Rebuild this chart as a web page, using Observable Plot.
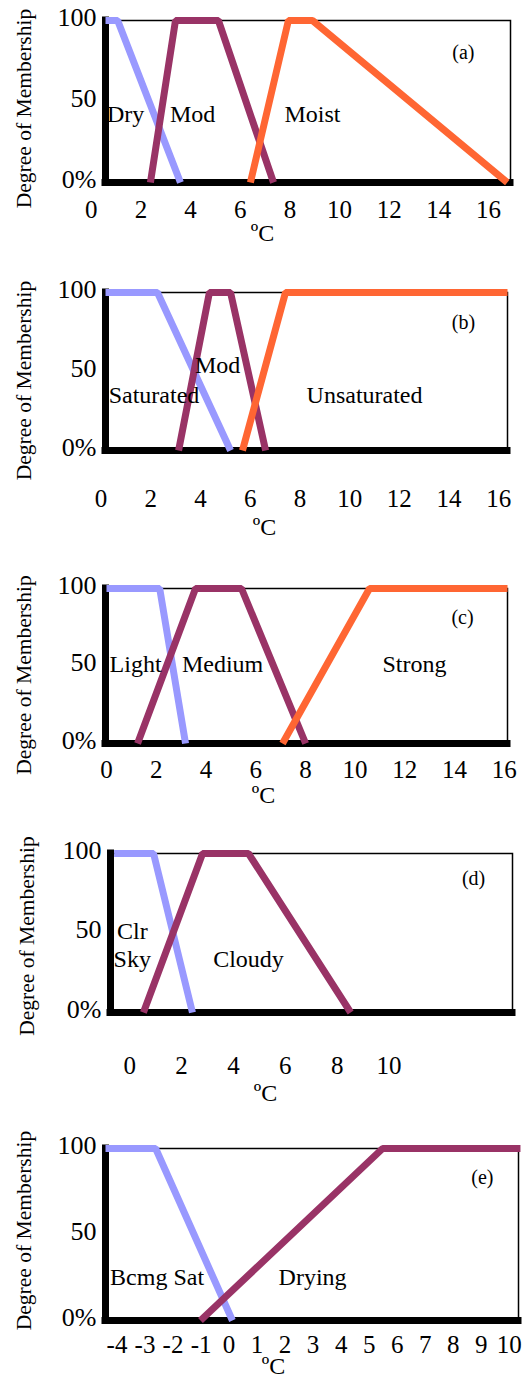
<!DOCTYPE html>
<html><head><meta charset="utf-8">
<script src="https://cdn.jsdelivr.net/npm/d3@7"></script>
<script src="https://cdn.jsdelivr.net/npm/@observablehq/plot@0.6"></script>
<style>
body{margin:0;background:#fff;}
#chart{width:530px;}
#chart svg{display:block;}
</style></head><body><div id="chart"></div>
<script>
const colors = ["#9999FF", "#993366", "#FF6633"];
const yTicks = [0, 50, 100];
const yTickLabels = ["0%", "50", "100"];
const yTitle = "Degree of Membership";
const xTitle = "ºC";

// (a)
const aSeries = ["Dry", "Mod", "Moist"];
const aX = [[0.57, 1.06, 3.59], [2.38, 3.39, 5.12, 7.34], [6.41, 7.94, 8.91, 16.76]];
const aY = [[100, 100, 0], [0, 100, 100, 0], [0, 100, 100, 0]];
const aTicks = [0, 2, 4, 6, 8, 10, 12, 14, 16];
const aLabelText = ["Dry", "Mod", "Moist"];
const aLabelX = [1.38, 4.08, 8.91];
const aLabelY = [43, 43, 43];

// (b)
const bSeries = ["Saturated", "Mod", "Unsaturated"];
const bX = [[0.18, 2.27, 5.21], [3.12, 4.36, 5.21, 6.62], [5.69, 7.42, 16.35]];
const bY = [[100, 100, 0], [0, 100, 100, 0], [0, 100, 100]];
const bTicks = [0, 2, 4, 6, 8, 10, 12, 14, 16];
const bLabelText = ["Saturated", "Mod", "Unsaturated"];
const bLabelX = [2.13, 4.69, 10.6];
const bLabelY = [36, 55, 36];

// (c)
const cSeries = ["Light", "Medium", "Strong"];
const cX = [[0, 2.14, 3.18], [1.25, 3.58, 5.43, 8.01], [7.08, 10.58, 16.13]];
const cY = [[100, 100, 0], [0, 100, 100, 0], [0, 100, 100]];
const cTicks = [0, 2, 4, 6, 8, 10, 12, 14, 16];
const cLabelText = ["Light", "Medium", "Strong"];
const cLabelX = [1.17, 4.67, 12.39];
const cLabelY = [52, 52, 52];

// (d)
const dSeries = ["Clr Sky", "Cloudy"];
const dX = [[-0.6, 0.92, 2.42], [0.53, 2.81, 4.58, 8.52]];
const dY = [[100, 100, 0], [0, 100, 100, 0]];
const dTicks = [0, 2, 4, 6, 8, 10];
const dLabelText = ["Clr\nSky", "Cloudy"];
const dLabelX = [0.1, 4.58];
const dLabelY = [43, 34];

// (e)
const eSeries = ["Bcmg Sat", "Drying"];
const eX = [[-4.41, -2.62, 0.12], [-1.02, 5.48, 10.4]];
const eY = [[100, 100, 0], [0, 100, 100]];
const eTicks = [-4, -3, -2, -1, 0, 1, 2, 3, 4, 5, 6, 7, 8, 9, 10];
const eLabelText = ["Bcmg Sat", "Drying"];
const eLabelX = [-2.57, 2.98];
const eLabelY = [26, 26];

const tags = ["(a)", "(b)", "(c)", "(d)", "(e)"];
const tagX = [14.99, 14.58, 14.32, 13.26, 9.04];
const tagY = [80, 81, 81, 84, 83];

const panels = [
  {series: aSeries, xs: aX, ys: aY, ticks: aTicks, labelText: aLabelText, labelX: aLabelX, labelY: aLabelY,
   domain: [0.57, 16.89], height: 258, mt: 20, mb: 76, ml: 105, mr: 20, tickDy: 27, xtDx: -45.5, xtDy: 51, ytDx: -81, ytDy: 7},
  {series: bSeries, xs: bX, ys: bY, ticks: bTicks, labelText: bLabelText, labelX: bLabelX, labelY: bLabelY,
   domain: [0.18, 16.35], height: 290, mt: 34, mb: 98, ml: 105, mr: 23, tickDy: 48, xtDx: -42, xtDy: 77, ytDx: -81, ytDy: 9},
  {series: cSeries, xs: cX, ys: cY, ticks: cTicks, labelText: cLabelText, labelX: cLabelX, labelY: cLabelY,
   domain: [-0.04, 16.13], height: 270, mt: 40, mb: 75, ml: 105, mr: 23, tickDy: 26, xtDx: -43, xtDy: 52, ytDx: -81, ytDy: 9},
  {series: dSeries, xs: dX, ys: dY, ticks: dTicks, labelText: dLabelText, labelX: dLabelX, labelY: dLabelY,
   domain: [-0.74, 14.76], height: 307, mt: 35, mb: 113, ml: 110, mr: 18, tickDy: 53, xtDx: -46, xtDy: 81, ytDx: -83, ytDy: 3},
  {series: eSeries, xs: eX, ys: eY, ticks: eTicks, labelText: eLabelText, labelX: eLabelX, labelY: eLabelY,
   domain: [-4.41, 10.33], height: 252, mt: 23, mb: 57, ml: 105, mr: 12, tickDy: 24, xtDx: -38.5, xtDy: 46, ytDx: -81, ytDy: -4}
];

const font = "'Liberation Serif', 'Times New Roman', Times, serif";

function panel(p, k) {
  const rows = p.series.flatMap((s, i) => p.xs[i].map((x, j) => ({series: s, x, y: p.ys[i][j]})));
  return Plot.plot({
    width: 530,
    height: p.height,
    marginTop: p.mt, marginBottom: p.mb, marginLeft: p.ml, marginRight: p.mr,
    x: {domain: p.domain, axis: null},
    y: {domain: [0, 100], axis: null},
    color: {domain: p.series, range: colors.slice(0, p.series.length)},
    style: {fontFamily: font, background: "transparent", color: "black", overflow: "visible"},
    marks: [
      Plot.frame({stroke: "black", strokeWidth: 1.5}),
      Plot.ruleY([0], {stroke: "black", strokeWidth: 7, strokeLinecap: "square"}),
      Plot.ruleX([p.domain[0]], {stroke: "black", strokeWidth: 7, strokeLinecap: "square"}),
      Plot.line(rows, {x: "x", y: "y", z: "series", stroke: "series", strokeWidth: 7, strokeLinecap: "butt", strokeLinejoin: "miter"}),
      Plot.text(p.labelText, {x: (d, i) => p.labelX[i], y: (d, i) => p.labelY[i], text: d => d, fontSize: 24, lineAnchor: "middle", lineHeight: 1.17}),
      Plot.text([tags[k]], {x: [tagX[k]], y: [tagY[k]], text: d => d, fontSize: 20, lineAnchor: "middle"}),
      Plot.text(p.ticks, {x: d => d, text: d => String(d), frameAnchor: "bottom", dy: p.tickDy, lineAnchor: "middle", fontSize: 25}),
      Plot.text(yTicks, {y: d => d, text: (d, i) => yTickLabels[i], frameAnchor: "left", textAnchor: "end", dx: -9, dy: -3, lineAnchor: "middle", fontSize: 26}),
      Plot.text([xTitle], {text: d => d, frameAnchor: "bottom", textAnchor: "middle", dx: p.xtDx, dy: p.xtDy, lineAnchor: "middle", fontSize: 24}),
      Plot.text([yTitle], {text: d => d, frameAnchor: "left", textAnchor: "middle", dx: p.ytDx, dy: p.ytDy, rotate: -90, lineAnchor: "middle", fontSize: 21.5})
    ]
  });
}

const chart = document.getElementById("chart");
panels.forEach((p, k) => chart.append(panel(p, k)));
</script>
</body></html>
